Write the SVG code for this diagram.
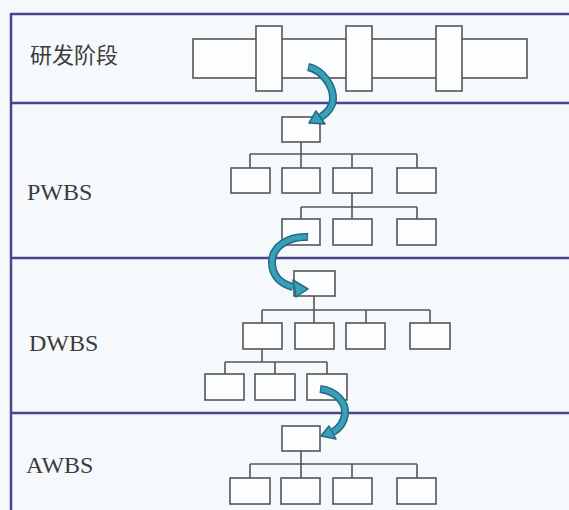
<svg xmlns="http://www.w3.org/2000/svg" width="569" height="510" viewBox="0 0 569 510">
<style>
.frame{stroke:#4a4390;stroke-width:2.5;fill:none}
.box{fill:#fbfdfe;stroke:#555;stroke-width:1.6}
.ln{stroke:#555;stroke-width:1.6;fill:none}
.lbl{font-family:"Liberation Serif",serif;font-size:24px;fill:#3c3c3c}
.cjk{font-family:"Noto Sans CJK SC",sans-serif;font-size:22px;fill:#3c3c3c}
.band{fill:none;stroke:#1f6b80;stroke-width:8}
.bandin{fill:none;stroke:#3a9fba;stroke-width:5}
.head{fill:#3a9fba;stroke:#1f6b80;stroke-width:1.5;stroke-linejoin:round}
</style>
<rect x="0" y="0" width="569" height="510" fill="#f6f9fc"/>
<g id="frame">
<line class="frame" x1="11" y1="14" x2="569" y2="14"/>
<line class="frame" x1="11" y1="103" x2="569" y2="103"/>
<line class="frame" x1="11" y1="258" x2="569" y2="258"/>
<line class="frame" x1="11" y1="413" x2="569" y2="413"/>
<line class="frame" x1="11" y1="13" x2="11" y2="510"/>
</g>
<g id="labels">
<text class="cjk" x="30" y="63">研发阶段</text>
<text class="lbl" x="27" y="200">PWBS</text>
<text class="lbl" x="29" y="351">DWBS</text>
<text class="lbl" x="26" y="473">AWBS</text>
</g>
<g id="stage">
<rect class="box" x="193" y="39" width="334" height="39"/>
<rect class="box" x="256" y="26" width="26" height="65"/>
<rect class="box" x="346" y="26" width="26" height="65"/>
<rect class="box" x="436" y="26" width="26" height="65"/>
</g>
<g id="connectors">
<!-- PWBS -->
<line class="ln" x1="301" y1="142" x2="301" y2="154"/>
<line class="ln" x1="250" y1="154" x2="417" y2="154"/>
<line class="ln" x1="250" y1="154" x2="250" y2="168"/>
<line class="ln" x1="301" y1="154" x2="301" y2="168"/>
<line class="ln" x1="352" y1="154" x2="352" y2="168"/>
<line class="ln" x1="417" y1="154" x2="417" y2="168"/>
<line class="ln" x1="352" y1="193" x2="352" y2="219"/>
<line class="ln" x1="301" y1="207" x2="417" y2="207"/>
<line class="ln" x1="301" y1="207" x2="301" y2="219"/>
<line class="ln" x1="417" y1="207" x2="417" y2="219"/>
<!-- DWBS -->
<line class="ln" x1="314" y1="296" x2="314" y2="310"/>
<line class="ln" x1="262" y1="310" x2="430" y2="310"/>
<line class="ln" x1="262" y1="310" x2="262" y2="323"/>
<line class="ln" x1="314" y1="310" x2="314" y2="323"/>
<line class="ln" x1="366" y1="310" x2="366" y2="323"/>
<line class="ln" x1="430" y1="310" x2="430" y2="323"/>
<line class="ln" x1="262" y1="349" x2="262" y2="362"/>
<line class="ln" x1="225" y1="362" x2="327" y2="362"/>
<line class="ln" x1="225" y1="362" x2="225" y2="374"/>
<line class="ln" x1="275" y1="362" x2="275" y2="374"/>
<line class="ln" x1="327" y1="362" x2="327" y2="374"/>
<!-- AWBS -->
<line class="ln" x1="301" y1="451" x2="301" y2="464"/>
<line class="ln" x1="250" y1="464" x2="417" y2="464"/>
<line class="ln" x1="250" y1="464" x2="250" y2="478"/>
<line class="ln" x1="301" y1="464" x2="301" y2="478"/>
<line class="ln" x1="352" y1="464" x2="352" y2="478"/>
<line class="ln" x1="417" y1="464" x2="417" y2="478"/>
</g>
<g id="pwbs">
<rect class="box" x="282" y="117" width="38" height="25"/>
<rect class="box" x="231" y="168" width="39" height="25"/>
<rect class="box" x="282" y="168" width="38" height="25"/>
<rect class="box" x="333" y="168" width="39" height="25"/>
<rect class="box" x="397" y="168" width="39" height="25"/>
<rect class="box" x="282" y="219" width="38" height="26"/>
<rect class="box" x="333" y="219" width="39" height="26"/>
<rect class="box" x="397" y="219" width="39" height="26"/>
</g>
<g id="dwbs">
<rect class="box" x="294" y="271" width="41" height="25"/>
<rect class="box" x="243" y="323" width="39" height="26"/>
<rect class="box" x="295" y="323" width="39" height="26"/>
<rect class="box" x="346" y="323" width="39" height="26"/>
<rect class="box" x="410" y="323" width="40" height="26"/>
<rect class="box" x="205" y="374" width="39" height="26"/>
<rect class="box" x="255" y="374" width="40" height="26"/>
<rect class="box" x="307" y="374" width="40" height="26"/>
</g>
<g id="awbs">
<rect class="box" x="282" y="426" width="38" height="25"/>
<rect class="box" x="230" y="478" width="40" height="26"/>
<rect class="box" x="281" y="478" width="39" height="26"/>
<rect class="box" x="333" y="478" width="39" height="26"/>
<rect class="box" x="397" y="478" width="39" height="26"/>
</g>
<g id="arrows">
<path class="band" d="M 308 67 C 322 70, 334 86, 333 100 C 332 108, 327 113, 321 117"/>
<path class="bandin" d="M 309 67 C 322 70, 334 86, 333 100 C 332 108, 327 113, 321 117"/>
<polygon class="head" points="309,123 316,111 325,124"/>
<path class="band" d="M 308 237 C 288 236, 272 247, 272 262 C 272 276, 281 284, 293 287"/>
<path class="bandin" d="M 307 237 C 288 236, 272 247, 272 262 C 272 276, 281 284, 293 287"/>
<polygon class="head" points="308,289 293,280 296,297"/>
<path class="band" d="M 320 389 C 336 391, 346 402, 345 414 C 344 422, 340 428, 333 432"/>
<path class="bandin" d="M 321 389 C 336 391, 346 402, 345 414 C 344 422, 340 428, 333 432"/>
<polygon class="head" points="321,436 329,426 336,439"/>
</g>
</svg>
